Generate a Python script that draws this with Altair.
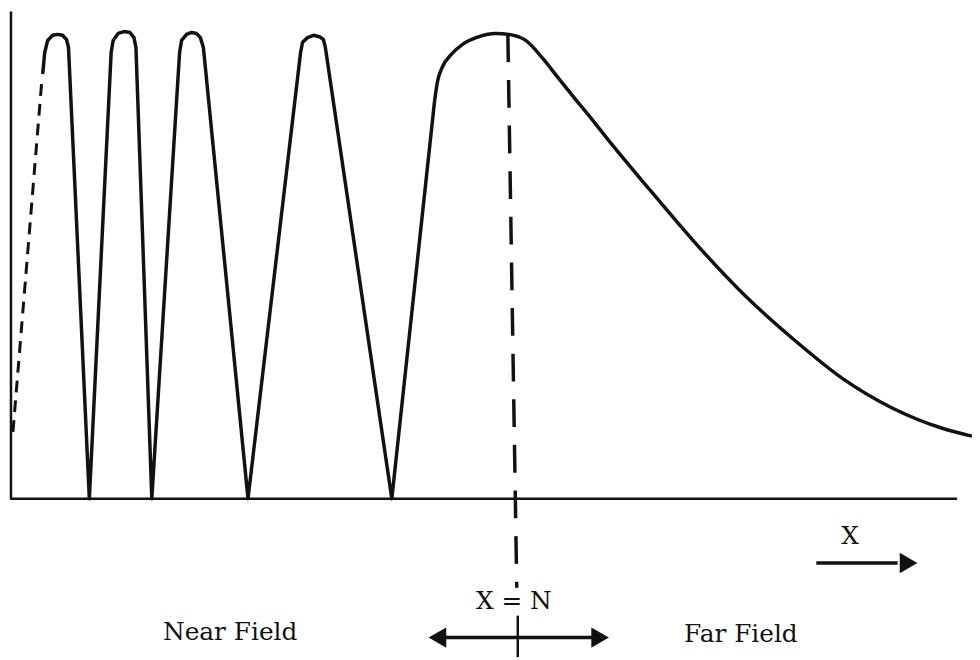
import altair as alt
import pandas as pd

# ---- data (distance units, relative pressure 0-100) ----
near_x = [33, 35, 38, 43, 48, 53, 57, 59, 80,
          102, 104, 109, 115, 121, 125, 127, 143,
          171, 173, 178, 183, 188, 192, 195, 240,
          293, 295, 300, 306, 312, 316, 318, 385,
          428]
near_p = [91.1, 95.7, 98.3, 99.4, 99.6, 99.4, 98.5, 96.8, 0,
          95.7, 98.3, 99.8, 100.2, 100, 98.9, 96.8, 0,
          95.7, 98.3, 99.6, 100, 99.8, 98.9, 96.8, 0,
          95.7, 97.9, 98.9, 99.4, 99.1, 98.5, 96.8, 0,
          85.1]

far_x = [428, 431, 436, 445, 456, 470, 490, 503, 520, 537, 553, 570, 587,
         603, 620, 637, 670, 690, 740, 790, 840, 890, 940, 970]
far_p = [85.1, 89.4, 92.6, 95.3, 97.4, 98.9, 99.8, 99.6, 98.3, 94.5, 90.2,
         85.7, 81.3, 77.0, 72.6, 68.3, 60.0, 55.1, 43.8, 34.2, 25.7, 19.4, 15.1, 13.4]

lead_x = [3, 32]
lead_p = [14.3, 89.4]

X_DOMAIN = [-2, 970]
P_DOMAIN = [-34.04, 104.68]

# axis / guide segments: x, p, x2, p2
axis_seg = {"x": [1, 0], "p": [0, 0], "x2": [1, 955], "p2": [104.5, 0]}
n_line = {"x": [502], "p": [99.6], "x2": [511], "p2": [-19.1]}
n_tick = {"x": [512], "p": [-25.1], "x2": [512], "p2": [-34.0]}
arrows = {"x": [431, 813], "p": [-29.8, -13.8], "x2": [595, 895], "p2": [-29.8, -13.8]}
heads = {"x": [431, 595, 906], "p": [-29.8, -29.8, -13.8],
         "shape": ["triangle-left", "triangle-right", "triangle-right"]}
labels = {"x": [847, 508, 222, 737], "p": [-8.1, -21.9, -28.7, -29.1],
          "text": ["X", "X = N", "Near Field", "Far Field"]}

xs = alt.Scale(domain=X_DOMAIN, nice=False, zero=False)
ys = alt.Scale(domain=P_DOMAIN, nice=False, zero=False)


def enc_xy(extra=None):
    d = dict(x=alt.X("x:Q", scale=xs, axis=None), y=alt.Y("p:Q", scale=ys, axis=None))
    if extra:
        d.update(extra)
    return d


def seg_layer(data, width, dash=None):
    kw = dict(color="#111", strokeWidth=width, strokeCap="butt")
    if dash:
        kw["strokeDash"] = dash
    return alt.Chart(pd.DataFrame(data)).mark_rule(**kw).encode(
        **enc_xy({"x2": "x2:Q", "y2": "p2:Q"}))


near_df = pd.DataFrame({"x": near_x, "p": near_p, "o": range(len(near_x))})
far_df = pd.DataFrame({"x": far_x, "p": far_p, "o": range(len(far_x))})
lead_df = pd.DataFrame({"x": lead_x, "p": lead_p, "o": range(len(lead_x))})

near = alt.Chart(near_df).mark_line(color="#111", strokeWidth=3.5, strokeJoin="round",
                                    interpolate="linear").encode(**enc_xy({"order": "o:O"}))
far = alt.Chart(far_df).mark_line(color="#111", strokeWidth=3.5,
                                  interpolate="monotone").encode(**enc_xy({"order": "o:O"}))
lead = alt.Chart(lead_df).mark_line(color="#111", strokeWidth=3, strokeDash=[12, 8]).encode(
    **enc_xy({"order": "o:O"}))

axes = seg_layer(axis_seg, 2.5)
nline = seg_layer(n_line, 3.5, [28, 18])
ntick = seg_layer(n_tick, 2.5)
arr = seg_layer(arrows, 3.5)
hd = alt.Chart(pd.DataFrame(heads)).mark_point(filled=True, color="#111", size=420, opacity=1).encode(
    **enc_xy({"shape": alt.Shape("shape:N", scale=None)}))
txt = alt.Chart(pd.DataFrame(labels)).mark_text(font="DejaVu Serif", fontSize=25, color="#111",
                                                align="center", baseline="middle").encode(
    **enc_xy({"text": "text:N"}))

chart = alt.layer(axes, lead, near, far, nline, ntick, arr, hd, txt).properties(
    width=972, height=652, padding=0, autosize=alt.AutoSizeParams(type="none"),
    background="white"
).configure_view(stroke=None)

chart.save("out.html", embed_options={"renderer": "svg", "actions": False})
